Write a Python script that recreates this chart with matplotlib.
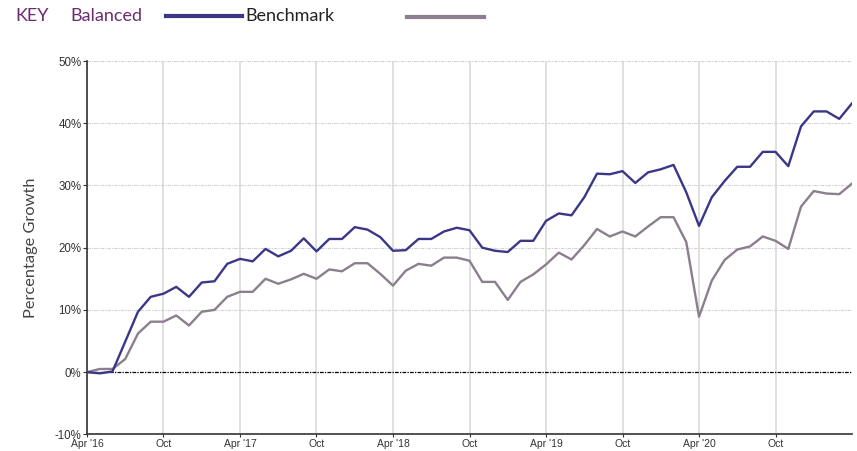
import matplotlib.pyplot as plt
import numpy as np
from matplotlib.lines import Line2D

# monthly growth since Apr 2016, in %
balanced = [0.0, -0.2, 0.1, 4.9, 9.7, 12.1, 12.6, 13.7, 12.1, 14.4,
            14.6, 17.4, 18.2, 17.8, 19.8, 18.6, 19.5, 21.5, 19.4, 21.4,
            21.4, 23.3, 22.9, 21.7, 19.5, 19.6, 21.4, 21.4, 22.6, 23.2,
            22.8, 20.0, 19.5, 19.3, 21.1, 21.1, 24.3, 25.5, 25.2, 28.1,
            31.9, 31.8, 32.3, 30.4, 32.1, 32.6, 33.3, 28.9, 23.5, 28.1,
            30.7, 33.0, 33.0, 35.4, 35.4, 33.1, 39.5, 41.9, 41.9, 40.7,
            43.2]
benchmark = [0.0, 0.5, 0.5, 2.1, 6.2, 8.1, 8.1, 9.1, 7.5, 9.7,
             10.0, 12.1, 12.9, 12.9, 15.0, 14.2, 14.9, 15.8, 15.0, 16.5,
             16.2, 17.5, 17.5, 15.8, 13.9, 16.3, 17.4, 17.1, 18.4, 18.4,
             17.9, 14.5, 14.5, 11.6, 14.5, 15.7, 17.3, 19.2, 18.1, 20.4,
             23.0, 21.8, 22.6, 21.8, 23.4, 24.9, 24.9, 20.9, 8.9, 14.7,
             18.0, 19.7, 20.2, 21.8, 21.1, 19.8, 26.6, 29.1, 28.7, 28.6,
             30.3]
x_labels = ["Apr '16", "Oct", "Apr '17", "Oct", "Apr '18", "Oct",
            "Apr '19", "Oct", "Apr '20", "Oct"]
y_ticks = [-10, 0, 10, 20, 30, 40, 50]

blue = '#3b3788'
grey = '#8b7e8d'
purple = '#6a2c70'

months = np.arange(len(balanced))

fig = plt.figure(figsize=(8.57, 4.51), dpi=100)
ax = fig.add_axes([0.1015, 0.037, 0.8927, 0.8277])

for xt in range(0, 60, 6):
    ax.axvline(xt, color='#dadada', lw=1.2, zorder=0)
for yt in y_ticks[2:]:
    ax.axhline(yt, color='#d2d2d2', lw=0.8, ls=(0, (3, 1, 1, 1)), zorder=0)
ax.axhline(0, color='black', lw=0.9, ls=(0, (3, 1, 1, 1)), zorder=1)

ax.plot(months, benchmark, color=grey, lw=1.7, zorder=3)
ax.plot(months, balanced, color=blue, lw=1.7, zorder=4)

ax.set_xlim(0, 60)
ax.set_ylim(-10, 50)
ax.set_xticks(range(0, 60, 6))
ax.set_xticklabels(x_labels, family='Liberation Sans', fontsize=7.5, color='#333333')
ax.set_yticks(y_ticks)
ax.set_yticklabels([f"{v}%" for v in y_ticks], family='Liberation Sans', fontsize=8.3,
                   color='#333333')
ax.tick_params(axis='x', length=2, pad=1.5, color='#333333')
ax.tick_params(axis='y', length=3, pad=1, color='#333333')
for s in ['top', 'right']:
    ax.spines[s].set_visible(False)
ax.spines['left'].set_color('#333333')
ax.spines['bottom'].set_color('#333333')
ax.spines['left'].set_linewidth(1.2)
ax.spines['bottom'].set_linewidth(1.2)

ax.set_ylabel("Percentage Growth", family='Lato', fontsize=11.8, color='#444444',
              labelpad=12)

# key at the top
fig.text(15 / 857, 1 - 16 / 451, "KEY", family='Lato', fontsize=13, color=purple,
         va='center', ha='left')
fig.text(70 / 857, 1 - 16 / 451, "Balanced", family='Lato', fontsize=13, color=purple,
         va='center', ha='left')
fig.add_artist(Line2D([166 / 857, 242 / 857], [1 - 16 / 451, 1 - 16 / 451],
                      color=blue, lw=3, transform=fig.transFigure))
fig.text(245 / 857, 1 - 16 / 451, "Benchmark", family='Lato', fontsize=13,
         color='#222222', va='center', ha='left')
fig.add_artist(Line2D([407 / 857, 484 / 857], [1 - 17 / 451, 1 - 17 / 451],
                      color=grey, lw=3, transform=fig.transFigure))

fig.savefig('out.png', dpi=100)
